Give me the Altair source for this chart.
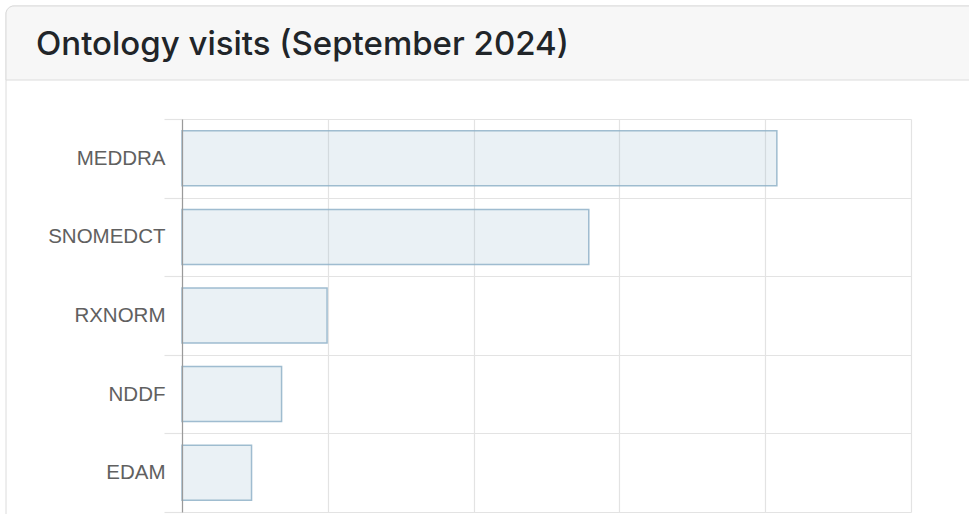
import altair as alt
import pandas as pd

# ---- data ----
ontologies = ["MEDDRA", "SNOMEDCT", "RXNORM", "NDDF", "EDAM"]
visits = [40800, 27900, 9950, 6830, 4770]
x_ticks = [0, 10000, 20000, 30000, 40000, 50000]
title_text = "Ontology visits (September 2024)"

df = pd.DataFrame({"ontology": ontologies, "visits": visits})
tdf = pd.DataFrame({"t": [title_text]})

# ---- layout ----
W, H = 729, 393
L, T = 182, 119

card = alt.Chart(tdf).mark_rect(
    fillOpacity=0, stroke="#dcdcdc", strokeWidth=1, cornerRadiusTopLeft=8
).encode(
    x=alt.value(6 - L), x2=alt.value(1200), y=alt.value(6 - T), y2=alt.value(700)
)

header = alt.Chart(tdf).mark_rect(
    fill="#f7f7f7", stroke="#dcdcdc", strokeWidth=1, cornerRadiusTopLeft=8
).encode(
    x=alt.value(6 - L), x2=alt.value(1200), y=alt.value(6 - T), y2=alt.value(80 - T)
)

title = alt.Chart(tdf).mark_text(
    align="left", baseline="alphabetic", font="Inter", fontSize=33,
    fontWeight=500, color="#212529"
).encode(
    x=alt.value(36 - L), y=alt.value(55 - T), text="t:N"
)

bars = alt.Chart(df).mark_bar(
    height={"band": 0.7},
    fill="#97bbcd", fillOpacity=0.2,
    stroke="#8fb2c8", strokeOpacity=0.85, strokeWidth=1.5,
).encode(
    x=alt.X(
        "visits:Q",
        scale=alt.Scale(domain=[0, 50000], nice=False),
        axis=alt.Axis(labels=False, ticks=False, domain=False, title=None,
                      grid=True, gridColor="#e3e3e3", gridWidth=1.2,
                      values=x_ticks),
    ),
    y=alt.Y(
        "ontology:N",
        sort=ontologies,
        scale=alt.Scale(paddingInner=0, paddingOuter=0),
        axis=alt.Axis(title=None, tickBand="extent", ticks=True, tickSize=18,
                      tickColor="#e3e3e3", tickWidth=1.2, grid=True,
                      gridColor="#e3e3e3", gridWidth=1.2,
                      domain=True, domainColor="#9a9a9a", domainWidth=1.2,
                      zindex=1,
                      labelFont="Liberation Sans", labelFontSize=20.5,
                      labelColor="#606060", labelPadding=-1),
    ),
)

chart = alt.layer(card, header, title, bars).properties(
    width=W,
    height=H,
    padding={"left": L, "top": T, "right": 969 - L - W, "bottom": 514 - T - H},
    autosize=alt.AutoSizeParams(type="none"),
    background="white",
).configure_view(stroke=None)

chart.save("out.html", embed_options={"renderer": "svg", "actions": False})
